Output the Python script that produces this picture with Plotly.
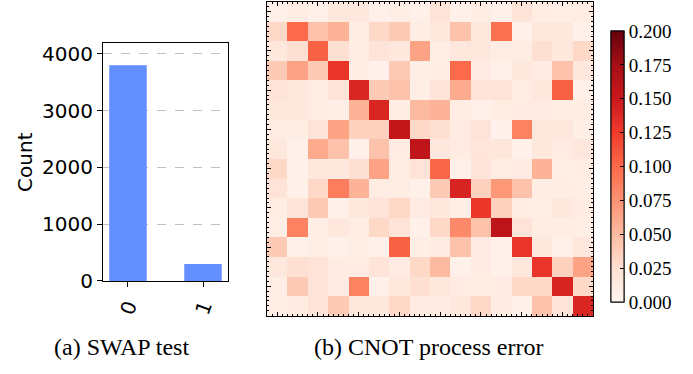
import plotly.graph_objects as go

# ---- data ----
outcomes = ["0", "1"]
counts = [3800, 296]

row00 = [0.005, 0.010, 0.005, 0.015, 0.015, 0.005, 0.008, 0.005, 0.020, 0.005, 0.010, 0.005, 0.020, 0.010, 0.008, 0.010]
row01 = [0.030, 0.100, 0.045, 0.055, 0.010, 0.030, 0.040, 0.010, 0.015, 0.045, 0.015, 0.095, 0.005, 0.015, 0.015, 0.005]
row02 = [0.015, 0.025, 0.105, 0.025, 0.010, 0.020, 0.015, 0.065, 0.008, 0.015, 0.015, 0.010, 0.010, 0.025, 0.015, 0.030]
row03 = [0.040, 0.065, 0.040, 0.130, 0.010, 0.005, 0.040, 0.008, 0.010, 0.100, 0.012, 0.005, 0.015, 0.012, 0.045, 0.015]
row04 = [0.020, 0.015, 0.010, 0.020, 0.140, 0.040, 0.045, 0.008, 0.020, 0.060, 0.020, 0.020, 0.010, 0.015, 0.105, 0.005]
row05 = [0.015, 0.015, 0.010, 0.008, 0.055, 0.140, 0.010, 0.050, 0.055, 0.010, 0.005, 0.010, 0.012, 0.012, 0.010, 0.010]
row06 = [0.010, 0.010, 0.020, 0.065, 0.035, 0.035, 0.155, 0.030, 0.025, 0.012, 0.020, 0.003, 0.085, 0.015, 0.015, 0.008]
row07 = [0.015, 0.005, 0.060, 0.045, 0.005, 0.045, 0.012, 0.158, 0.015, 0.012, 0.018, 0.018, 0.005, 0.015, 0.012, 0.015]
row08 = [0.030, 0.005, 0.015, 0.015, 0.025, 0.065, 0.010, 0.020, 0.102, 0.005, 0.020, 0.010, 0.012, 0.055, 0.008, 0.010]
row09 = [0.020, 0.005, 0.030, 0.088, 0.055, 0.010, 0.010, 0.005, 0.040, 0.142, 0.035, 0.072, 0.045, 0.010, 0.010, 0.008]
row10 = [0.010, 0.020, 0.040, 0.005, 0.015, 0.020, 0.030, 0.012, 0.015, 0.008, 0.127, 0.035, 0.010, 0.008, 0.015, 0.012]
row11 = [0.008, 0.085, 0.008, 0.015, 0.010, 0.030, 0.020, 0.005, 0.030, 0.080, 0.045, 0.160, 0.020, 0.010, 0.010, 0.008]
row12 = [0.040, 0.005, 0.008, 0.005, 0.008, 0.005, 0.105, 0.008, 0.012, 0.045, 0.012, 0.005, 0.130, 0.015, 0.005, 0.015]
row13 = [0.015, 0.025, 0.020, 0.012, 0.012, 0.020, 0.012, 0.030, 0.050, 0.005, 0.012, 0.005, 0.015, 0.130, 0.035, 0.065]
row14 = [0.008, 0.040, 0.020, 0.012, 0.085, 0.005, 0.015, 0.025, 0.015, 0.012, 0.010, 0.012, 0.030, 0.030, 0.142, 0.030]
row15 = [0.008, 0.012, 0.020, 0.040, 0.015, 0.015, 0.030, 0.012, 0.012, 0.015, 0.030, 0.012, 0.003, 0.045, 0.020, 0.140]
error_matrix = [row00, row01, row02, row03, row04, row05, row06, row07,
                row08, row09, row10, row11, row12, row13, row14, row15]

cbar_ticks = [0.0, 0.025, 0.05, 0.075, 0.1, 0.125, 0.15, 0.175, 0.2]
cbar_minor = [i * 0.005 for i in range(41)]
count_ticks = [0, 1000, 2000, 3000, 4000]

reds = [[0.0, "rgb(255,245,240)"], [0.125, "rgb(254,224,210)"], [0.25, "rgb(252,187,161)"],
        [0.375, "rgb(252,146,114)"], [0.5, "rgb(251,106,74)"], [0.625, "rgb(239,59,44)"],
        [0.75, "rgb(203,24,29)"], [0.875, "rgb(165,15,21)"], [1.0, "rgb(103,0,13)"]]

W, H = 693, 374
serif = "Liberation Serif, Times New Roman, serif"
sans = "DejaVu Sans, sans-serif"

fig = go.Figure()

fig.add_trace(go.Bar(x=outcomes, y=counts, marker=dict(color="#648fff", line=dict(width=0)),
                     xaxis="x", yaxis="y", showlegend=False))

cb_common = dict(thickness=13, x=611 / W, xanchor="left", y=(H - 171.5) / H, yanchor="middle",
                 len=281 / H, lenmode="fraction", xpad=0, ypad=0)

# minor tick colorbar (drawn first)
fig.add_trace(go.Heatmap(z=error_matrix, colorscale=reds, zmin=0, zmax=0.2, xaxis="x2", yaxis="y2",
                         showscale=True, hoverinfo="skip",
                         colorbar=dict(**cb_common, outlinewidth=1, outlinecolor="black",
                                       ticks="inside", ticklen=2, tickcolor="black",
                                       tickvals=cbar_minor, ticktext=[""] * len(cbar_minor),
                                       tickfont=dict(size=1))))

fig.add_trace(go.Heatmap(z=error_matrix, colorscale=reds, zmin=0, zmax=0.2, xaxis="x2", yaxis="y2",
                         showscale=True,
                         colorbar=dict(**cb_common, outlinewidth=1, outlinecolor="black",
                                       ticks="inside", ticklen=4, tickcolor="black",
                                       tickvals=cbar_ticks, ticktext=[f"{v:.3f}" for v in cbar_ticks],
                                       tickfont=dict(family=serif, size=19, color="black"))))

# empty trace so that the top/right tick axes are drawn
fig.add_trace(go.Scatter(x=[None], y=[None], xaxis="x3", yaxis="y3", showlegend=False,
                         hoverinfo="skip", mode="markers"))

hm_x_dom = [267 / W, 593 / W]
hm_y_dom = [(H - 326) / H, (H - 1) / H]
minor_ticks = dict(ticks="inside", ticklen=2, tickcolor="black", dtick=0.25, tick0=0, showgrid=False)
hm_axis = dict(range=[-0.5, 15.5], ticks="inside", ticklen=4, tickcolor="black", tick0=0, dtick=2,
               showticklabels=False, showgrid=False, zeroline=False, minor=minor_ticks)

fig.update_layout(
    width=W, height=H, margin=dict(l=0, r=0, t=0, b=0),
    paper_bgcolor="white", plot_bgcolor="white", bargap=0.5,
    xaxis=dict(domain=[103 / W, 228 / W], type="category", range=[-0.333, 1.333],
               showline=True, linecolor="black", linewidth=1, mirror=True,
               ticks="outside", ticklen=5, tickcolor="black", tickangle=-70,
               tickfont=dict(family=sans, size=20, color="black"), showgrid=False),
    yaxis=dict(domain=[(H - 290) / H, (H - 44) / H], range=[0, 4183],
               showline=True, linecolor="black", linewidth=1, mirror=True,
               ticks="outside", ticklen=5, tickcolor="black", tickvals=count_ticks,
               tickfont=dict(family=sans, size=20, color="black"),
               showgrid=True, gridcolor="#c0c0c0", griddash="dash", gridwidth=1, zeroline=False,
               title=dict(text="Count", font=dict(family=sans, size=20, color="black"), standoff=4)),
    xaxis2=dict(domain=hm_x_dom, anchor="y2", showline=True, linecolor="black", linewidth=1,
                mirror=True, **hm_axis),
    yaxis2=dict(domain=hm_y_dom, anchor="x2", autorange=False, showline=True, linecolor="black",
                linewidth=1, mirror=True, **{**hm_axis, "range": [15.5, -0.5]}),
    xaxis3=dict(domain=hm_x_dom, anchor="y3", overlaying="x2", side="top", showline=False, **hm_axis),
    yaxis3=dict(domain=hm_y_dom, anchor="x3", overlaying="y2", side="right", showline=False,
                **{**hm_axis, "range": [15.5, -0.5]}),
    annotations=[
        dict(text="(a) SWAP test", x=52 / W, y=(H - 358) / H, xref="paper", yref="paper",
             xanchor="left", yanchor="middle", showarrow=False,
             font=dict(family=serif, size=24, color="black")),
        dict(text="(b) CNOT process error", x=312 / W, y=(H - 358) / H, xref="paper", yref="paper",
             xanchor="left", yanchor="middle", showarrow=False,
             font=dict(family=serif, size=24, color="black")),
    ],
)

fig.write_html("out.html")
